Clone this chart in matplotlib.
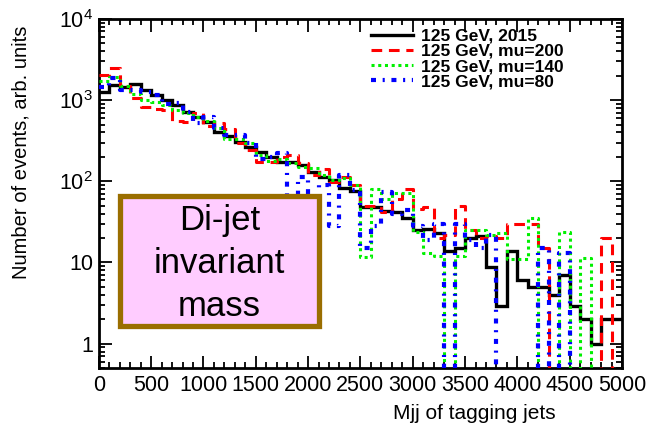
import numpy as np
import matplotlib
matplotlib.use("Agg")
import matplotlib.pyplot as plt
from matplotlib.lines import Line2D
from matplotlib.patches import Rectangle
from matplotlib.ticker import FixedLocator, FuncFormatter, MultipleLocator, LogLocator

plt.rcParams['font.family'] = ['Liberation Sans', 'DejaVu Sans']
plt.rcParams['mathtext.fontset'] = 'custom'
plt.rcParams['mathtext.rm'] = 'Liberation Sans'
plt.rcParams['mathtext.it'] = 'Liberation Sans'

# 50 bins of 100 GeV, 0-5000
bin_edges = np.arange(0, 5001, 100)

# 125 GeV, 2015
h_2015 = [1260, 1550, 1460, 1560, 1330, 1150, 1000, 870, 717, 622,
          540, 406, 360, 306, 265, 230, 200, 173, 173, 158,
          130, 113, 103, 82, 76, 48, 48, 43, 42, 35,
          25, 26, 23, 14, 15, 20, 21, 8.9, 2.9, 14,
          6, 5, 5, 4, 7, 2.9, 2, 1, 2, 2]
# 125 GeV, mu=200
h_mu200 = [2040, 2450, 1500, 1050, 830, 770, 760, 560, 530, 700,
           480, 520, 440, 295, 240, 175, 175, 200, 210, 170,
           120, 140, 98, 113, 90, 50, 50, 42, 60, 80,
           45, 48, 20, 22, 50, 25, 20, 21, 20, 30,
           30, 30, 15, 0, 0, 0, 0, 0, 20, 0]
# 125 GeV, mu=140
h_mu140 = [1700, 1900, 1500, 1200, 1000, 950, 870, 750, 700, 620,
           560, 450, 330, 330, 300, 210, 180, 190, 170, 150,
           145, 120, 105, 110, 90, 11.6, 80, 61, 72, 72,
           24, 13, 12, 0, 12, 25, 25, 22, 23, 11,
           11, 35, 0, 0, 23.6, 0, 11.5, 0, 0, 0]
# 125 GeV, mu=80
h_mu80 = [1460, 1850, 1330, 1330, 1250, 1150, 900, 910, 717, 520,
          622, 450, 370, 370, 300, 190, 200, 220, 30, 113,
          45, 90, 28, 118, 77, 15, 28, 74, 40, 44,
          28, 19, 30, 0, 30, 19, 15, 22, 0, 0,
          0, 0, 15, 0, 13, 0, 0, 0, 0, 0]

labels = ['125 GeV, 2015', '125 GeV, mu=200', '125 GeV, mu=140', '125 GeV, mu=80']
x_ticks = [0, 500, 1000, 1500, 2000, 2500, 3000, 3500, 4000, 4500, 5000]

styles = [
    dict(color='black', lw=2.4, ls='-'),
    dict(color='#ff0000', lw=2.2, ls=(0, (3.5, 2.2))),
    dict(color='#00f000', lw=2.2, ls=(0, (1.0, 1.2))),
    dict(color='#0000ff', lw=3.0, ls=(0, (1.2, 1.6, 0.5, 1.6))),
]

fig = plt.figure(figsize=(6.5, 4.29), dpi=100)
ax = fig.add_axes([0.152, 0.142, 0.805, 0.814])

series = [h_2015, h_mu200, h_mu140, h_mu80]
handles = []
for i in range(4):
    v = np.array(series[i], dtype=float)
    v = np.where(v > 0, v, 0.01)  # empty bins fall below the frame
    ax.step(bin_edges, np.append(v, v[-1]), where='post', **styles[i],
            solid_joinstyle='miter', zorder=3 + i)
    handles.append(Line2D([], [], **styles[i]))

ax.set_yscale('log')
ax.set_xlim(0, 5000)
ax.set_ylim(0.5, 1e4)

ax.xaxis.set_major_locator(FixedLocator(x_ticks))
ax.xaxis.set_minor_locator(MultipleLocator(100))
ax.yaxis.set_major_locator(LogLocator(base=10, numticks=10))
ax.yaxis.set_minor_locator(LogLocator(base=10, subs=np.arange(2, 10), numticks=20))


def ylab(v, pos):
    if v == 1:
        return '1'
    if v == 10:
        return '10'
    return '$10^{%d}$' % int(round(np.log10(v)))


ax.yaxis.set_major_formatter(FuncFormatter(ylab))
ax.yaxis.set_minor_formatter(FuncFormatter(lambda v, p: ''))

ax.tick_params(which='both', direction='in', top=True, right=True, width=1.3,
               labelsize=15.5, color='black')
ax.tick_params(which='major', length=9)
ax.tick_params(which='minor', length=4.5)
ax.tick_params(axis='x', pad=5)
ax.tick_params(axis='y', pad=4)
for s in ax.spines.values():
    s.set_linewidth(2)

fig.text(0.032, 0.645, 'Number of events, arb. units', rotation=90,
         ha='center', va='center', fontsize=14.5)
fig.text(0.855, 0.037, 'Mjj of tagging jets', ha='right', va='center', fontsize=15)

leg = ax.legend(handles, labels, loc='upper left', bbox_to_anchor=(0.52, 0.972),
                frameon=False, fontsize=12.5, handlelength=2.4, handletextpad=0.5,
                labelspacing=0.0, borderpad=0, borderaxespad=0)
for t in leg.get_texts():
    t.set_fontweight('bold')

# annotation box
box = Rectangle((0.184, 0.24), 0.307, 0.302, transform=fig.transFigure,
                facecolor='#ffccff', edgecolor='#9a6e00', lw=3.8, zorder=10)
fig.patches.append(box)
fig.text(0.3375, 0.386, 'Di-jet\ninvariant\nmass', ha='center', va='center',
         fontsize=25, linespacing=1.38, zorder=11)

fig.savefig('out.png', dpi=100)
